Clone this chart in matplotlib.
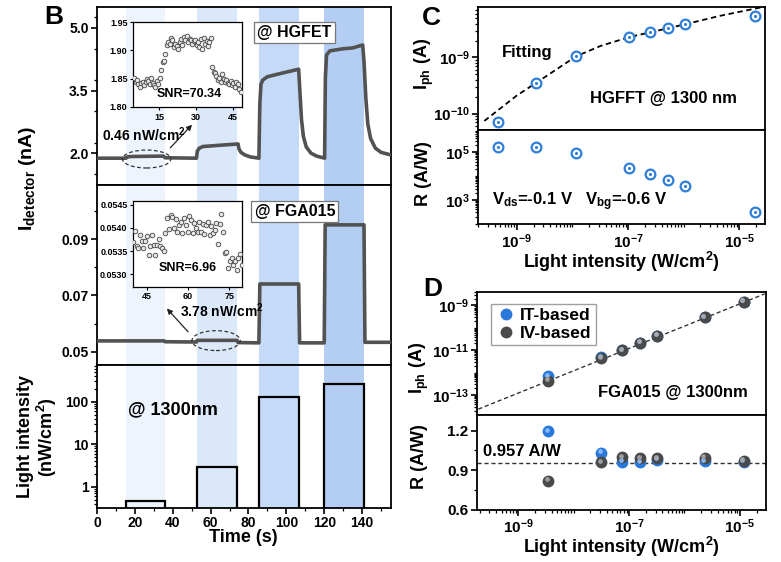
import numpy as np
import matplotlib
matplotlib.use("Agg")
import matplotlib.pyplot as plt
from matplotlib.patches import Ellipse
from matplotlib.lines import Line2D
from matplotlib.ticker import LogLocator, NullFormatter, MultipleLocator
import matplotlib.transforms as mtransforms

plt.rcParams['font.family'] = ['Liberation Sans', 'DejaVu Sans']
plt.rcParams['font.weight'] = 'bold'
plt.rcParams['axes.labelweight'] = 'bold'
plt.rcParams['mathtext.fontset'] = 'custom'
plt.rcParams['mathtext.rm'] = 'Liberation Sans:bold'
plt.rcParams['mathtext.it'] = 'Liberation Sans:bold'
plt.rcParams['mathtext.bf'] = 'Liberation Sans:bold'
plt.rcParams['axes.linewidth'] = 1.3
plt.rcParams['xtick.major.width'] = 1.2
plt.rcParams['ytick.major.width'] = 1.2
plt.rcParams['xtick.minor.width'] = 0.9
plt.rcParams['ytick.minor.width'] = 0.9

# ---- panel B data ----
band_start = [15.3, 52.8, 85.6, 120.0]
band_end = [35.9, 74.0, 106.7, 141.0]
band_colors = ['#edf4fd', '#dbe8fa', '#c4daf6', '#b3cef2']
light_int = [0.47, 2.95, 131, 261]   # nW/cm2

hgfet_t = [0, 15.3, 16, 18, 35, 36, 52.5, 53, 54, 56, 65, 74.5, 75, 76, 78, 81, 85.5,
           86, 86.6, 87.5, 90, 98, 106.5, 107, 108, 109, 110.5, 113, 116, 120.2,
           120.6, 121.2, 123, 130, 135, 140.3, 141, 142, 143, 144.5, 147, 150, 155]
hgfet_i = [1.88, 1.88, 1.91, 1.92, 1.93, 1.89, 1.88, 2.05, 2.12, 2.16, 2.19, 2.22, 2.10, 2.02, 1.96, 1.91, 1.88,
           3.2, 3.65, 3.75, 3.83, 3.92, 4.01, 3.6, 2.8, 2.4, 2.15, 2.0, 1.93, 1.88,
           3.8, 4.35, 4.45, 4.50, 4.52, 4.59, 4.2, 3.3, 2.7, 2.35, 2.12, 2.02, 1.96]

fga_t = [0, 35.5, 36, 52.5, 53, 74, 74.5, 85.5, 86, 106.5, 107, 120, 120.5, 141, 141.5, 155]
fga_i = [0.0538, 0.0538, 0.0535, 0.0534, 0.0540, 0.0540, 0.0532, 0.0531, 0.0741, 0.0741,
         0.0531, 0.0531, 0.0952, 0.0952, 0.0533, 0.0533]

hg_inset_i = [1.852, 1.845, 1.848, 1.840, 1.836, 1.842, 1.845, 1.838, 1.844, 1.850, 1.846, 1.840,
              1.852, 1.843, 1.838, 1.835, 1.846,
              1.840, 1.852, 1.865, 1.880, 1.882, 1.893,
              1.910, 1.915, 1.912, 1.922, 1.918, 1.905, 1.912, 1.908, 1.903, 1.915, 1.920, 1.910,
              1.924, 1.918, 1.926, 1.915, 1.920, 1.918, 1.912, 1.916, 1.918, 1.910, 1.914, 1.906,
              1.920, 1.903, 1.922, 1.912, 1.917, 1.908, 1.915, 1.921,
              1.870, 1.862, 1.860, 1.855, 1.848, 1.852, 1.845, 1.858, 1.850, 1.845, 1.848, 1.843,
              1.840, 1.846, 1.838, 1.842, 1.836, 1.844, 1.840, 1.832, 1.826]
hg_inset_t = np.linspace(5.0, 48.0, len(hg_inset_i))

fga_inset_i = [0.05369, 0.05394, 0.05360, 0.05356, 0.05385, 0.05372, 0.05356, 0.05372, 0.05383,
               0.05341, 0.05360, 0.05385, 0.05364, 0.05342, 0.05364, 0.05376, 0.05360, 0.05356,
               0.05351, 0.05389, 0.05421, 0.05398, 0.05428, 0.05424, 0.05399, 0.05419, 0.05392,
               0.05406, 0.05414, 0.05389, 0.05421, 0.05406, 0.05392, 0.05426, 0.05417, 0.05389,
               0.05410, 0.05399, 0.05392, 0.05414, 0.05392, 0.05408, 0.05386, 0.05406, 0.05414,
               0.05385, 0.05405, 0.05389, 0.05396, 0.05410, 0.05365, 0.05408, 0.05431, 0.05392,
               0.05346, 0.05348, 0.05314, 0.05328, 0.05335, 0.05321, 0.05328, 0.05310, 0.05334,
               0.05344, 0.05321]
fga_inset_t = np.linspace(40.1, 79.6, len(fga_inset_i))

# ---- panel C data ----
c_power = [4.6e-10, 2.2e-9, 1.17e-8, 1.05e-7, 2.45e-7, 5.2e-7, 1.07e-6, 1.9e-5]
c_iph = [7.2e-11, 3.5e-10, 1.05e-9, 2.3e-9, 2.8e-9, 3.3e-9, 3.9e-9, 5.5e-9]
c_resp = [1.7e5, 1.6e5, 9.1e4, 2.2e4, 1.2e4, 6.8e3, 3.9e3, 3.2e2]
c_fit_x = [2.6e-10, 1.0e-9, 2.2e-9, 1.17e-8, 3.2e-8, 1.05e-7, 5.2e-7, 1.07e-6, 4.5e-6, 2.5e-5]
c_fit_y = [7.4e-11, 2.1e-10, 3.5e-10, 1.05e-9, 1.6e-9, 2.3e-9, 3.3e-9, 3.9e-9, 5.5e-9, 7.8e-9]

# ---- panel D data ----
d_power = [3.5e-9, 3.1e-8, 7.4e-8, 1.6e-7, 3.2e-7, 2.3e-6, 1.17e-5]
d_iph_it = [6.9e-13, 4.9e-12, 1.0e-11, 2.2e-11, 4.5e-11, 3.0e-10, 1.5e-9]
d_iph_iv = [4.4e-13, 4.3e-12, 1.0e-11, 2.2e-11, 4.5e-11, 3.0e-10, 1.5e-9]
d_r_it = [1.195, 1.034, 0.965, 0.960, 0.980, 0.970, 0.965]
d_r_iv = [0.820, 0.963, 0.999, 0.991, 0.991, 0.996, 0.973]
d_fit_x = [1.9e-10, 2.8e-5]
d_fit_y = [2.3e-14, 3.3e-9]
r_mean = 0.957

W, H = 781, 562
fig = plt.figure(figsize=(W / 100, H / 100), dpi=100)


def px_axes(x0, y0, x1, y1):
    return fig.add_axes([x0 / W, 1 - y1 / H, (x1 - x0) / W, (y1 - y0) / H])


def style(ax, size=10):
    ax.tick_params(which='both', direction='out', labelsize=size, pad=2)
    ax.tick_params(which='major', length=4)
    ax.tick_params(which='minor', length=2)


# ================= panel B =================
axB1 = px_axes(97, 7, 390.5, 184.5)
axB2 = px_axes(97, 184.5, 390.5, 365)
axB3 = px_axes(97, 365, 390.5, 508)
for ax in (axB1, axB2, axB3):
    for s, e, c in zip(band_start, band_end, band_colors):
        ax.axvspan(s, e, color=c, lw=0, zorder=0)
    ax.set_xlim(0, 155)
    style(ax)
for ax in (axB1, axB2):
    ax.tick_params(axis='x', which='both', bottom=False, labelbottom=False)

axB1.plot(hgfet_t, hgfet_i, color='#525252', lw=2.6, zorder=3)
axB1.set_ylim(1.25, 5.5)
axB1.set_yticks([2.0, 3.5, 5.0])
axB1.yaxis.set_minor_locator(MultipleLocator(0.75))
axB1.add_patch(Ellipse((26.2, 1.86), 25.5, 0.43, fill=False, ls=(0, (3, 2)), lw=0.9, color='#333333', zorder=4))
axB1.annotate('', xy=(51.2, 2.73), xytext=(37.7, 2.08),
              arrowprops=dict(arrowstyle='-|>', lw=0.9, color='#222222', mutation_scale=8))
axB1.text(2.6, 2.44, '0.46 nW/cm$^2$', fontsize=10, va='center')
axB1.text(0.672, 0.855, '@ HGFET', transform=axB1.transAxes, fontsize=11.5, ha='center', va='center',
          bbox=dict(boxstyle='square,pad=0.2', fc='white', ec='#777777', lw=0.9), zorder=5)

axB2.plot(fga_t, fga_i, color='#525252', lw=2.6, zorder=3)
axB2.set_ylim(0.0452, 0.1096)
axB2.set_yticks([0.05, 0.07, 0.09])
axB2.yaxis.set_minor_locator(MultipleLocator(0.01))
axB2.add_patch(Ellipse((62.9, 0.0539), 25.5, 0.0071, fill=False, ls=(0, (3, 2)), lw=0.9, color='#333333', zorder=4))
axB2.annotate('', xy=(35.9, 0.0661), xytext=(49.1, 0.0563),
              arrowprops=dict(arrowstyle='-|>', lw=0.9, color='#222222', mutation_scale=8))
axB2.text(43.8, 0.0644, '3.78 nW/cm$^2$', fontsize=10, va='center')
axB2.text(0.674, 0.85, '@ FGA015', transform=axB2.transAxes, fontsize=11.5, ha='center', va='center',
          bbox=dict(boxstyle='square,pad=0.2', fc='white', ec='#777777', lw=0.9), zorder=5)

axB3.bar(band_start, [v - 0.1 for v in light_int], width=np.subtract(band_end, band_start),
         bottom=0.1, align='edge', fill=False, edgecolor='black', lw=1.6, zorder=3)
axB3.set_yscale('log')
axB3.set_ylim(0.316, 730)
axB3.set_yticks([1, 10, 100])
axB3.set_yticklabels(['1', '10', '100'])
axB3.yaxis.set_minor_locator(LogLocator(base=10, subs=np.arange(2, 10), numticks=20))
axB3.yaxis.set_minor_formatter(NullFormatter())
axB3.set_xticks(np.arange(0, 141, 20))
axB3.xaxis.set_minor_locator(MultipleLocator(10))
axB3.set_xlabel('Time (s)', fontsize=13, labelpad=-1)
axB3.text(0.106, 0.69, '@ 1300nm', transform=axB3.transAxes, fontsize=13, va='center')

fig.text(27 / W, 1 - 178 / H, 'I$_{\\mathrm{detector}}$ (nA)', rotation=90, fontsize=14,
         ha='center', va='center')
fig.text(38 / W, 1 - 437 / H, 'Light intensity\n(nW/cm$^2$)', rotation=90, fontsize=13,
         ha='center', va='center', linespacing=1.0)
fig.text(54 / W, 1 - 17 / H, 'B', fontsize=19, ha='center', va='center')

# insets
insA = px_axes(133, 22, 242, 107)
insA.scatter(hg_inset_t, hg_inset_i, s=11, facecolor='#e6e6e6', edgecolor='#444444', lw=0.6, zorder=3)
insA.set_xlim(4.5, 48.6)
insA.set_ylim(1.80, 1.95)
insA.set_xticks([15, 30, 45])
insA.set_yticks([1.80, 1.85, 1.90, 1.95])
insA.set_yticklabels(['1.80', '1.85', '1.90', '1.95'])
insA.tick_params(direction='out', labelsize=6.5, length=2.5, width=0.8, pad=1.5)
for sp in insA.spines.values():
    sp.set_linewidth(0.9)
insA.text(0.52, 0.15, 'SNR=70.34', transform=insA.transAxes, fontsize=9, ha='center', va='center')

insB = px_axes(133, 200.7, 242, 286.7)
insB.scatter(fga_inset_t, fga_inset_i, s=11, facecolor='#e6e6e6', edgecolor='#444444', lw=0.6, zorder=3)
insB.set_xlim(40, 79.7)
insB.set_ylim(0.05273, 0.05459)
insB.set_xticks([45, 60, 75])
insB.set_yticks([0.0530, 0.0535, 0.0540, 0.0545])
insB.set_yticklabels(['0.0530', '0.0535', '0.0540', '0.0545'])
insB.tick_params(direction='out', labelsize=6.5, length=2.5, width=0.8, pad=1.5)
for sp in insB.spines.values():
    sp.set_linewidth(0.9)
insB.text(0.505, 0.22, 'SNR=6.96', transform=insB.transAxes, fontsize=9, ha='center', va='center')


def log_axis(ax, which):
    axis = ax.xaxis if which == 'x' else ax.yaxis
    axis.set_minor_locator(LogLocator(base=10, subs=np.arange(1, 10), numticks=40))
    axis.set_minor_formatter(NullFormatter())


blue = '#2f7fd8'

# ================= panel C =================
axC1 = px_axes(478, 7, 765, 130)
axC2 = px_axes(478, 130, 765, 224)
for ax in (axC1, axC2):
    ax.set_xscale('log')
    ax.set_yscale('log')
    ax.set_xlim(2.0e-10, 2.9e-5)
    ax.set_xticks([1e-9, 1e-7, 1e-5])
    log_axis(ax, 'x')
    log_axis(ax, 'y')
    style(ax, 11)
axC1.tick_params(axis='x', labelbottom=False)

axC1.plot(c_fit_x, c_fit_y, color='black', ls=(0, (3, 2)), lw=1.3, zorder=2)
axC1.plot(c_power, c_iph, 'o', ms=7, mfc='white', mec=blue, mew=1.6, zorder=3)
axC1.plot(c_power, c_iph, '.', ms=2.5, color=blue, zorder=4)
axC1.set_ylim(5.1e-11, 7.9e-9)
axC1.set_yticks([1e-10, 1e-9])
axC1.text(502 / W, 1 - 53 / H, 'Fitting', transform=fig.transFigure, fontsize=12, va='center')
axC1.text(663 / W, 1 - 99 / H, 'HGFFT @ 1300 nm', transform=fig.transFigure, fontsize=12,
          ha='center', va='center')

axC2.plot(c_power, c_resp, 'o', ms=7, mfc='white', mec=blue, mew=1.6, zorder=3)
axC2.plot(c_power, c_resp, '.', ms=2.5, color=blue, zorder=4)
axC2.set_ylim(98, 8.5e5)
axC2.set_yticks([1e3, 1e5])
axC2.text(492 / W, 1 - 202 / H, 'V$_{\\mathrm{ds}}$=-0.1 V   V$_{\\mathrm{bg}}$=-0.6 V',
          transform=fig.transFigure, fontsize=12, va='center')
axC2.set_xlabel('Light intensity (W/cm$^2$)', fontsize=13, labelpad=-1)

fig.text(424 / W, 1 - 64 / H, 'I$_{\\mathrm{ph}}$ (A)', rotation=90, fontsize=13, ha='center', va='center')
fig.text(424 / W, 1 - 174 / H, 'R (A/W)', rotation=90, fontsize=13, ha='center', va='center')
fig.text(431 / W, 1 - 18 / H, 'C', fontsize=19, ha='center', va='center')


# ================= panel D =================
def spheres(ax, x, y, color, light, ms=7.5):
    ax.plot(x, y, 'o', ms=ms, color=color, mec=color, zorder=3)
    hl = mtransforms.offset_copy(ax.transData, fig=fig, x=-0.9, y=0.9, units='points')
    ax.plot(x, y, 'o', ms=ms * 0.45, color=light, mew=0, transform=hl, zorder=4, alpha=0.9)


axD1 = px_axes(477, 292, 765.5, 415)
axD2 = px_axes(477, 415, 765.5, 509.5)
for ax in (axD1, axD2):
    ax.set_xscale('log')
    ax.set_xlim(1.8e-10, 2.9e-5)
    ax.set_xticks([1e-9, 1e-7, 1e-5])
    log_axis(ax, 'x')
    style(ax, 11)
axD1.tick_params(axis='x', labelbottom=False)

axD1.set_yscale('log')
log_axis(axD1, 'y')
axD1.plot(d_fit_x, d_fit_y, color='#333333', ls=(0, (3, 2)), lw=1.0, zorder=2)
spheres(axD1, d_power, d_iph_it, '#2a78dc', '#8ec2ff')
spheres(axD1, d_power, d_iph_iv, '#4a4a4a', '#a8a8a8')
axD1.set_ylim(1.26e-14, 4e-9)
axD1.set_yticks([1e-13, 1e-11, 1e-9])
handles = [Line2D([], [], marker='o', ls='', ms=7.5, color='#2a78dc', label='IT-based'),
           Line2D([], [], marker='o', ls='', ms=7.5, color='#4a4a4a', label='IV-based')]
axD1.legend(handles=handles, loc='upper left', bbox_to_anchor=(0.05, 0.905), fontsize=12.5,
            frameon=True, fancybox=False, edgecolor='#888888', borderpad=0.25, handletextpad=0.2,
            labelspacing=0.15, handlelength=1.2, borderaxespad=0)
axD1.text(673 / W, 1 - 393 / H, 'FGA015 @ 1300nm', transform=fig.transFigure, fontsize=12,
          ha='center', va='center')

axD2.axhline(r_mean, color='#333333', ls=(0, (3, 2)), lw=1.0, zorder=2)
spheres(axD2, d_power, d_r_it, '#2a78dc', '#8ec2ff')
spheres(axD2, d_power, d_r_iv, '#4a4a4a', '#a8a8a8')
axD2.set_ylim(0.6, 1.32)
axD2.set_yticks([0.6, 0.9, 1.2])
axD2.yaxis.set_minor_locator(MultipleLocator(0.15))
axD2.text(483 / W, 1 - 452 / H, '0.957 A/W', transform=fig.transFigure, fontsize=12, va='center')
axD2.set_xlabel('Light intensity (W/cm$^2$)', fontsize=13, labelpad=-1)

fig.text(419 / W, 1 - 368 / H, 'I$_{\\mathrm{ph}}$ (A)', rotation=90, fontsize=13, ha='center', va='center')
fig.text(419 / W, 1 - 457 / H, 'R (A/W)', rotation=90, fontsize=13, ha='center', va='center')
fig.text(433 / W, 1 - 289 / H, 'D', fontsize=19, ha='center', va='center')

fig.savefig('out.png', dpi=100)
